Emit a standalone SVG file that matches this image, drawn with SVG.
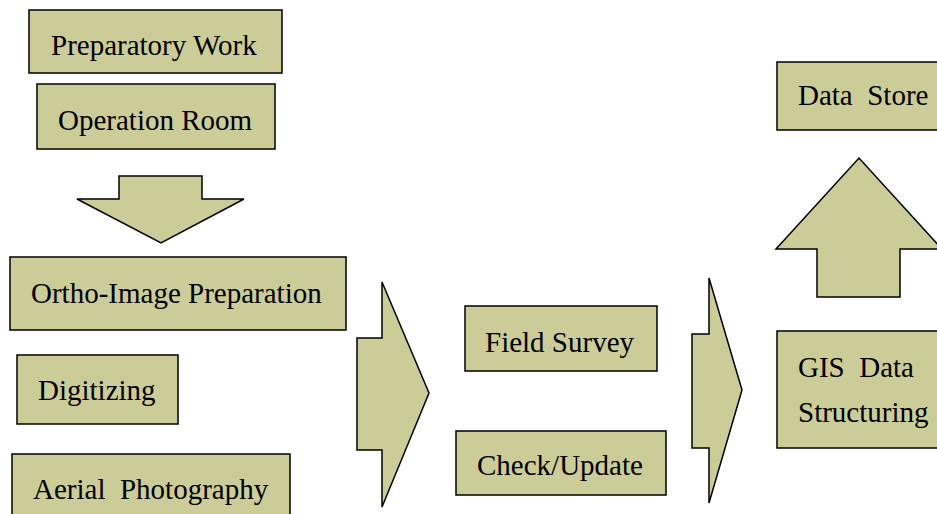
<svg xmlns="http://www.w3.org/2000/svg" width="937" height="514" viewBox="0 0 937 514">
<style>
.box{fill:#cccc99;stroke:#000;stroke-width:1.5}
.arr{fill:#cccc99;stroke:#000;stroke-width:1.5;stroke-linejoin:miter}
text{font-family:'Liberation Serif','Times New Roman',serif;font-size:29px;fill:#000;white-space:pre}
</style>
<rect width="937" height="514" fill="#fff"/>
<g id="connectors">
<polygon class="arr" points="119,176 202,176 202,199 244,199 161,243 77,199 119,199"/>
<polygon class="arr" points="357,338 382,338 382,282 429,393 382,507 382,450 357,450"/>
<polygon class="arr" points="692,334 709,334 709,278 742,390 709,503 709,448 692,448"/>
<polygon class="arr" points="817,297 817,249 776,249 859,158 942,249 900,249 900,297"/>
</g>
<g id="preparatory"><rect class="box" x="29" y="10" width="253" height="63"/><text x="51" y="55">Preparatory Work</text></g>
<g id="operation"><rect class="box" x="37" y="84" width="238" height="65"/><text x="58" y="130">Operation Room</text></g>
<g id="ortho"><rect class="box" x="10" y="257" width="336" height="73"/><text x="31" y="303">Ortho-Image Preparation</text></g>
<g id="digitizing"><rect class="box" x="17" y="355" width="161" height="69"/><text x="38" y="400">Digitizing</text></g>
<g id="aerial"><rect class="box" x="12" y="454" width="278" height="70"/><text x="33" y="499" xml:space="preserve">Aerial  Photography</text></g>
<g id="field"><rect class="box" x="465" y="306" width="192" height="65"/><text x="485" y="352">Field Survey</text></g>
<g id="check"><rect class="box" x="456" y="431" width="210" height="64"/><text x="477" y="475">Check/Update</text></g>
<g id="datastore"><rect class="box" x="777" y="62" width="170" height="68"/><text x="798" y="105" xml:space="preserve">Data  Store</text></g>
<g id="gis"><rect class="box" x="777" y="331" width="170" height="117"/><text x="798" y="377" xml:space="preserve">GIS  Data</text><text x="798" y="422">Structuring</text></g>
</svg>
